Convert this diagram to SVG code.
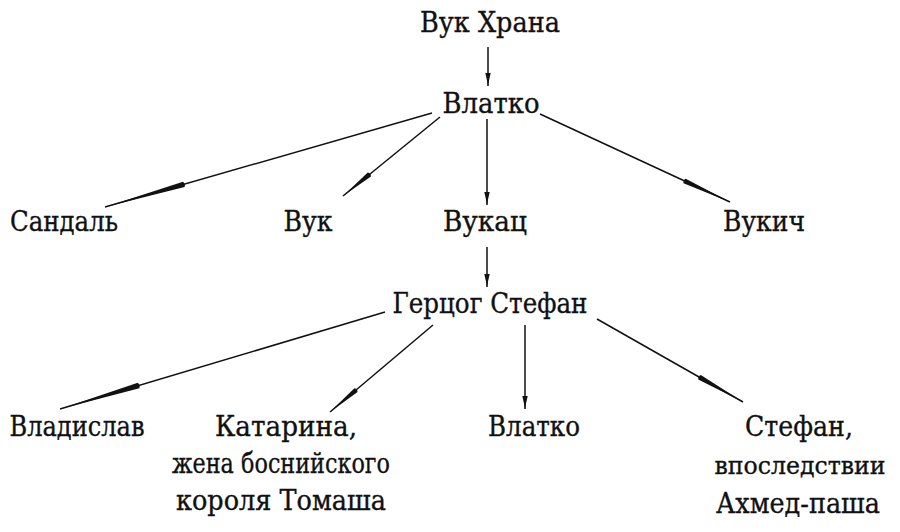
<svg xmlns="http://www.w3.org/2000/svg" width="900" height="532" viewBox="0 0 900 532">
<style>
  .t { font-family: "DejaVu Serif", "Liberation Serif", serif; font-size: 27px; fill: #111; stroke: #111; stroke-width: 0.35; text-anchor: middle; }
  .t.s { font-size: 24px; }
  .c line { stroke: #111; stroke-width: 1.5; fill: none; }
  .v { marker-end: url(#mv); }
  .wl { marker-end: url(#mwl); }
  .wm { marker-end: url(#mwm); }
  .ws { marker-end: url(#mws); }
</style>
<defs>
  <marker id="mv" markerUnits="userSpaceOnUse" markerWidth="20" markerHeight="8" refX="0" refY="0" orient="auto" overflow="visible">
    <path d="M-13,-2.7 Q-6,-1 0,0 Q-6,1 -13,2.7 Z" fill="#111"/>
  </marker>
  <marker id="mwl" markerUnits="userSpaceOnUse" markerWidth="90" markerHeight="8" refX="0" refY="0" orient="auto" overflow="visible">
    <path d="M-82,-2.8 Q-84,0 -82,2.8 L0,0 Z" fill="#111"/>
  </marker>
  <marker id="mwm" markerUnits="userSpaceOnUse" markerWidth="60" markerHeight="8" refX="0" refY="0" orient="auto" overflow="visible">
    <path d="M-50,-2.6 Q-52,0 -50,2.6 L0,0 Z" fill="#111"/>
  </marker>
  <marker id="mws" markerUnits="userSpaceOnUse" markerWidth="40" markerHeight="8" refX="0" refY="0" orient="auto" overflow="visible">
    <path d="M-34,-2.5 Q-36,0 -34,2.5 L0,0 Z" fill="#111"/>
  </marker>
</defs>

<g id="connectors" class="c">
  <line class="v" x1="488" y1="47" x2="488" y2="86"/>
  <line class="wl" x1="432" y1="113" x2="105" y2="207"/>
  <line class="ws" x1="440" y1="117" x2="343" y2="196"/>
  <line class="v" x1="487" y1="119" x2="487" y2="205"/>
  <line class="wm" x1="540" y1="114" x2="730" y2="202"/>
  <line class="v" x1="487" y1="247" x2="487" y2="287"/>
  <line class="wl" x1="385" y1="312" x2="60" y2="409"/>
  <line class="ws" x1="433" y1="325" x2="330" y2="412"/>
  <line class="v" x1="525" y1="325" x2="525" y2="409"/>
  <line class="wm" x1="597" y1="319" x2="743" y2="402"/>
</g>

<g id="vuk-hrana"><text class="t" x="490" y="32" textLength="140" lengthAdjust="spacingAndGlyphs">Вук Храна</text></g>
<g id="vlatko"><text class="t" x="491" y="113" textLength="97" lengthAdjust="spacingAndGlyphs">Влатко</text></g>
<g id="sandal"><text class="t" x="64" y="231" textLength="108" lengthAdjust="spacingAndGlyphs">Сандаль</text></g>
<g id="vuk"><text class="t" x="308" y="231" textLength="49" lengthAdjust="spacingAndGlyphs">Вук</text></g>
<g id="vukac"><text class="t" x="485" y="231" textLength="84" lengthAdjust="spacingAndGlyphs">Вукац</text></g>
<g id="vukich"><text class="t" x="764" y="231" textLength="82" lengthAdjust="spacingAndGlyphs">Вукич</text></g>
<g id="herceg-stefan"><text class="t" x="490" y="313" textLength="195" lengthAdjust="spacingAndGlyphs">Герцог Стефан</text></g>
<g id="vladislav"><text class="t" x="77" y="436" textLength="135" lengthAdjust="spacingAndGlyphs">Владислав</text></g>
<g id="katarina">
  <text class="t" x="286" y="436" textLength="142" lengthAdjust="spacingAndGlyphs">Катарина,</text>
  <text class="t" x="281" y="473" textLength="218" lengthAdjust="spacingAndGlyphs">жена боснийского</text>
  <text class="t" x="281" y="510" textLength="210" lengthAdjust="spacingAndGlyphs">короля Томаша</text>
</g>
<g id="vlatko-2"><text class="t" x="534" y="436" textLength="92" lengthAdjust="spacingAndGlyphs">Влатко</text></g>
<g id="stefan">
  <text class="t" x="799" y="436" textLength="108" lengthAdjust="spacingAndGlyphs">Стефан,</text>
  <text class="t s" x="800" y="474" textLength="171" lengthAdjust="spacingAndGlyphs">впоследствии</text>
  <text class="t" x="798" y="513" textLength="164" lengthAdjust="spacingAndGlyphs">Ахмед-паша</text>
</g>
</svg>
